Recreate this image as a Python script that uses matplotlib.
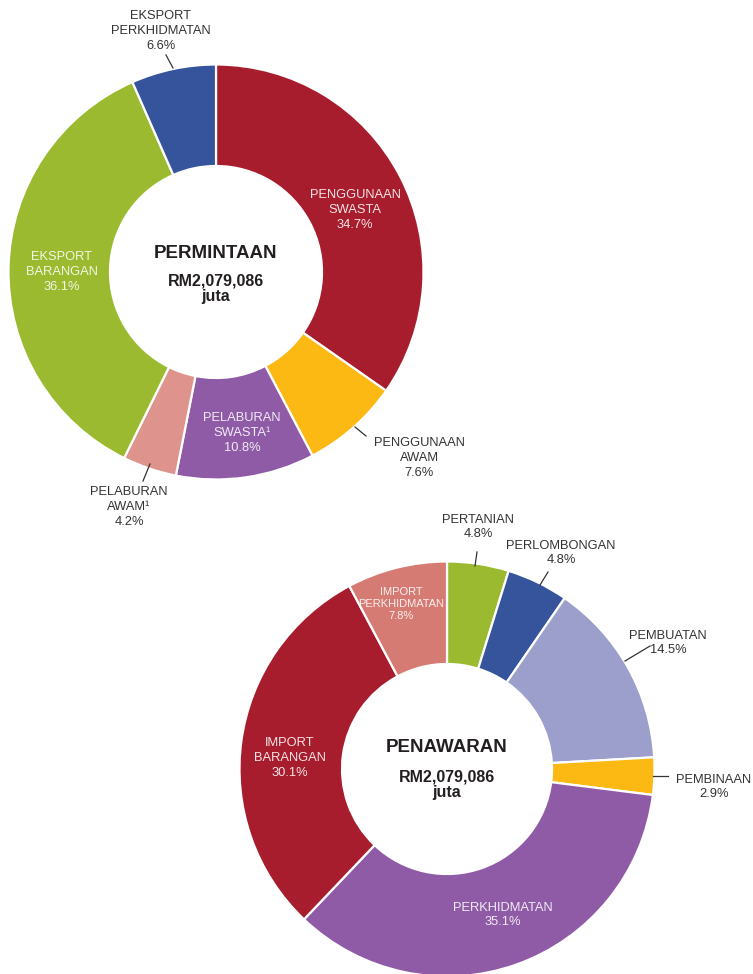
import matplotlib
matplotlib.use('Agg')
import matplotlib.pyplot as plt

plt.rcParams['font.family'] = ['Liberation Sans', 'DejaVu Sans']

# ---- data ----
demand_labels = ['PENGGUNAAN\nSWASTA', 'PENGGUNAAN\nAWAM', 'PELABURAN\nSWASTA¹',
                 'PELABURAN\nAWAM¹', 'EKSPORT\nBARANGAN', 'EKSPORT\nPERKHIDMATAN']
demand_values = [34.7, 7.6, 10.8, 4.2, 36.1, 6.6]
demand_colors = ['#A81D2D', '#FDB913', '#8F5BA6', '#DE938D', '#9BBA2F', '#36549C']

supply_labels = ['PERTANIAN', 'PERLOMBONGAN', 'PEMBUATAN', 'PEMBINAAN',
                 'PERKHIDMATAN', 'IMPORT\nBARANGAN', 'IMPORT\nPERKHIDMATAN']
supply_values = [4.8, 4.8, 14.5, 2.9, 35.1, 30.1, 7.8]
supply_colors = ['#9BBA2F', '#36549C', '#9C9FCB', '#FDB913', '#8F5BA6', '#A81D2D', '#D57B73']

total_text = 'RM2,079,086\njuta'

W, H = 753, 974
fig = plt.figure(figsize=(W / 100, H / 100), dpi=100)
ax = fig.add_axes([0, 0, 1, 1])


def py(y):
    # pixel row (top-down) -> data y
    return H - y


def donut(values, colors, cx, cy, r_out, r_in):
    ax.pie(values, colors=colors, startangle=90, counterclock=False,
           radius=r_out, center=(cx, py(cy)),
           wedgeprops=dict(width=r_out - r_in, edgecolor='white', linewidth=1.6))


def label(x, y, s, inside=False, size=9.3, ls=1.3):
    ax.text(x, py(y), s, ha='center', va='center', fontsize=size,
            color='white' if inside else '#333333', alpha=0.88 if inside else 1,
            linespacing=ls)


def leader(x0, y0, x1, y1):
    ax.plot([x0, x1], [py(y0), py(y1)], color='#333333', lw=0.9)


# ---- top donut: PERMINTAAN ----
donut(demand_values, demand_colors, 216, 272, 207.5, 106)
pct = [f'{v}%' for v in demand_values]
label(355, 210, demand_labels[0] + '\n' + pct[0], inside=True, ls=1.38)
label(419, 458, demand_labels[1] + '\n' + pct[1])
label(242, 433, demand_labels[2] + '\n' + pct[2], inside=True)
label(129, 507, demand_labels[3] + '\n' + pct[3])
label(62, 272, demand_labels[4] + '\n' + pct[4], inside=True)
label(161, 31, demand_labels[5] + '\n' + pct[5])
leader(166, 55, 173, 68)
leader(355, 427, 366, 436)
leader(143, 481, 150, 464)

ax.text(216, py(253), 'PERMINTAAN', ha='center', va='center',
        fontsize=13.5, fontweight='bold', color='#231F20')
ax.text(216, py(289), total_text, ha='center', va='center',
        fontsize=11.5, fontweight='bold', color='#231F20', linespacing=1.0)

# ---- bottom donut: PENAWARAN ----
donut(supply_values, supply_colors, 447, 769, 207.5, 105)
pct = [f'{v}%' for v in supply_values]
label(478, 527, supply_labels[0] + '\n' + pct[0])
label(561, 553, supply_labels[1] + '\n' + pct[1])
label(668, 643, supply_labels[2] + '\n' + pct[2])
label(714, 787, supply_labels[3] + '\n' + pct[3])
label(503, 915, supply_labels[4] + '\n' + pct[4], inside=True)
label(290, 758, supply_labels[5] + '\n' + pct[5], inside=True)
label(401, 604, supply_labels[6] + '\n' + pct[6], inside=True, size=8)
leader(477, 552, 475, 566)
leader(548, 572, 540, 585)
leader(650, 646, 625, 661)
leader(653, 776, 668, 776)

ax.text(447, py(748), 'PENAWARAN', ha='center', va='center',
        fontsize=13.5, fontweight='bold', color='#231F20')
ax.text(447, py(785), total_text, ha='center', va='center',
        fontsize=11.5, fontweight='bold', color='#231F20', linespacing=1.0)

ax.set_xlim(0, W)
ax.set_ylim(0, H)
ax.set_aspect('equal')
ax.axis('off')

fig.savefig('out.png', dpi=100)
